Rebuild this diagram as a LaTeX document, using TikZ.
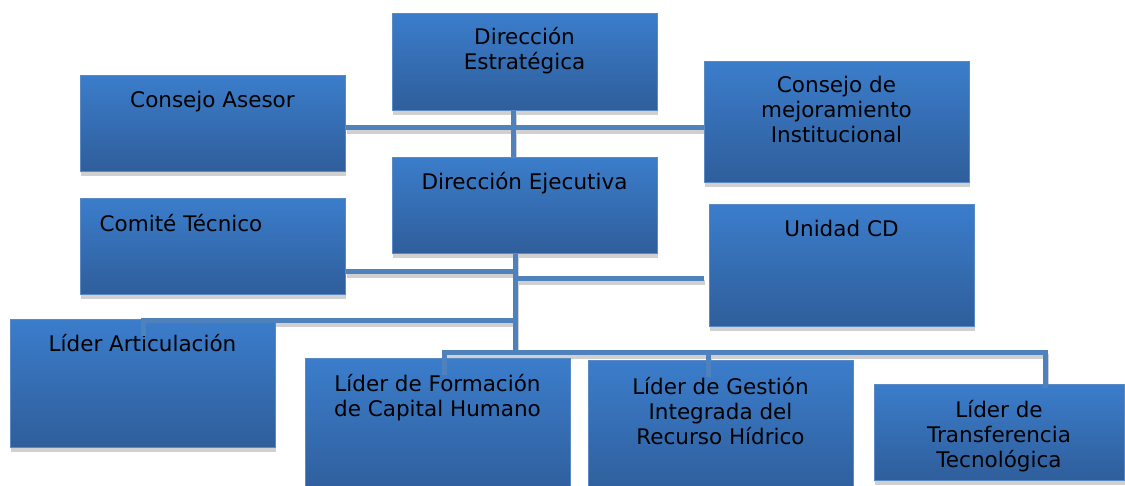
\documentclass[tikz,border=0pt]{standalone}
\usepackage{fontspec}
\setmainfont{DejaVu Sans}
\usetikzlibrary{calc,shadows}
\pgfdeclarelayer{back}
\pgfsetlayers{back,main}
\definecolor{boxtop}{HTML}{3B7DCB}
\definecolor{boxbot}{HTML}{2F5E9B}
\definecolor{boxline}{HTML}{5A8AC6}
\definecolor{connc}{HTML}{4F81BD}
\definecolor{shd}{HTML}{D0D0D0}
\tikzset{
  orgbox/.style={rectangle, draw=boxline, line width=1pt, top color=boxtop, bottom color=boxbot,
    inner sep=0pt, general shadow={fill=shd, shadow xshift=1pt, shadow yshift=-5pt}},
  orgtext/.style={anchor=base, inner sep=0pt, align=center, text=black,
    font=\fontsize{21.5}{25}\selectfont},
  conn/.style={draw=connc, line width=5pt},
  connshadow/.style={draw=shd, line width=5pt, transform canvas={xshift=1pt, yshift=-4pt}},
}
\begin{document}
\begin{tikzpicture}[x=1pt, y=-1pt]
\useasboundingbox (0,0) rectangle (1125,485);
% boxes
\node[orgbox, minimum width=265pt, minimum height=97pt]  (ds) at (524.5,61.5) {};
\node[orgbox, minimum width=265pt, minimum height=96pt]  (ca) at (212.5,123) {};
\node[orgbox, minimum width=265pt, minimum height=121pt] (cm) at (836.5,121.5) {};
\node[orgbox, minimum width=265pt, minimum height=96pt]  (de) at (524.5,205) {};
\node[orgbox, minimum width=265pt, minimum height=96pt]  (ct) at (212.5,246) {};
\node[orgbox, minimum width=265pt, minimum height=122pt] (uc) at (841.5,265) {};
\node[orgbox, minimum width=265pt, minimum height=128pt] (la) at (142.5,383) {};
\node[orgbox, minimum width=265pt, minimum height=137pt] (lf) at (437.5,426.5) {};
\node[orgbox, minimum width=265pt, minimum height=135pt] (lg) at (720.5,427.5) {};
\node[orgbox, minimum width=250pt, minimum height=96pt]  (lt) at (999,432) {};
% texts (base anchor = last line)
\node[orgtext] (ds-t) at ($(ds.north)+(0,32+25)$) {Dirección\\Estratégica};
\node[orgtext] (ca-t) at ($(ca.north)+(0,33)$) {Consejo Asesor};
\node[orgtext] (cm-t) at ($(cm.north)+(0,32+50)$) {Consejo de\\mejoramiento\\Institucional};
\node[orgtext] (de-t) at ($(de.north)+(0,33)$) {Dirección Ejecutiva};
\node[orgtext, anchor=base west] (ct-t) at ($(ct.north west)+(20,34)$) {Comité Técnico};
\node[orgtext] (uc-t) at ($(uc.north)+(0,33)$) {Unidad CD};
\node[orgtext] (la-t) at ($(la.north)+(0,33)$) {Líder Articulación};
\node[orgtext] (lf-t) at ($(lf.north)+(0,34+25)$) {Líder de Formación\\de Capital Humano};
\node[orgtext] (lg-t) at ($(lg.north)+(0,33+52)$) {Líder de Gestión\\Integrada del\\Recurso Hídrico};
\node[orgtext] (lt-t) at ($(lt.north)+(0,34+50)$) {Líder de\\Transferencia\\Tecnológica};
% helper coordinates
\coordinate (x1) at (513,0);
\coordinate (x2) at (515,0);
\coordinate (h1) at (0,127);
\coordinate (h2) at (0,271);
\coordinate (h3) at (0,278);
\coordinate (h4) at (0,320);
\coordinate (h5) at (0,352);
\coordinate (xa) at (143,0);
\coordinate (xf) at (444,0);
\coordinate (xg) at (708,0);
\coordinate (xt) at (1045,0);
\coordinate (ucend) at ($(uc.west |- h3)+(-5,0)$);
% connectors (shadows on the back layer)
\foreach \s/\lay in {connshadow/back, conn/main}{
 \begin{pgfonlayer}{\lay}
  \draw[\s] (ca.east |- h1) -- (cm.west |- h1);
  \draw[\s] (ds.south -| x1) -- (de.north -| x1);
  \draw[\s] (ct.east |- h2) -- (x2 |- h2);
  \draw[\s] (x2 |- h3) -- (ucend);
  \draw[\s] (x2 |- h4) -- (xa |- h4) -- ($(la.north -| xa)+(0,17)$);
  \draw[\s] ($(xf |- lf.north)+(0,17)$) -- (xf |- h5) -- (xt |- h5) -- ($(lt.north -| xt)+(0,4)$);
  \draw[\s] (xg |- h5) -- ($(lg.north -| xg)+(0,17)$);
  \draw[\s] (de.south -| x2) -- (x2 |- h5);
 \end{pgfonlayer}
}
\end{tikzpicture}
\end{document}
